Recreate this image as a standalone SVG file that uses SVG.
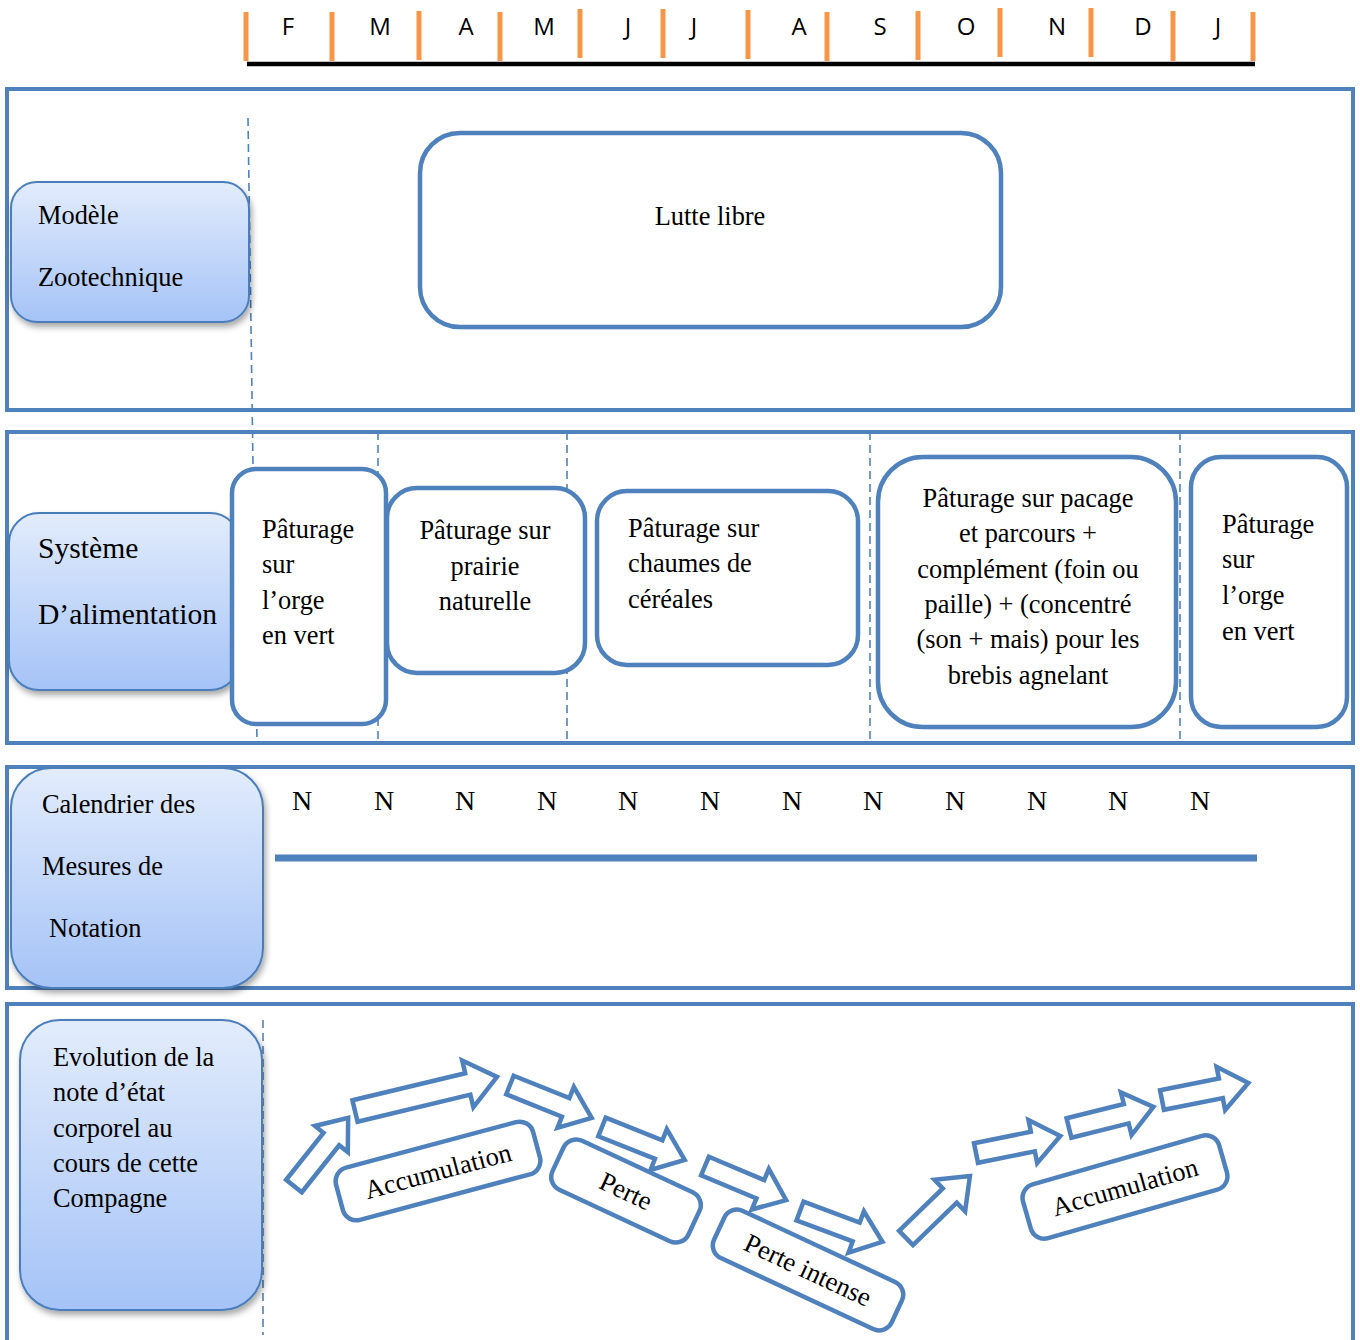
<svg xmlns="http://www.w3.org/2000/svg" width="1360" height="1340" viewBox="0 0 1360 1340">
<defs>
<linearGradient id="lg" x1="0" y1="0" x2="0" y2="1">
<stop offset="0" stop-color="#e2ecfc"/>
<stop offset="1" stop-color="#a5c3f7"/>
</linearGradient>
<filter id="sh" x="-10%" y="-10%" width="125%" height="130%">
<feDropShadow dx="2" dy="4" stdDeviation="3" flood-color="#000" flood-opacity="0.35"/>
</filter>
<style>
.sec{fill:none;stroke:#4f81bd;stroke-width:4}
.lab{fill:url(#lg);stroke:#4a7ebb;stroke-width:2;filter:url(#sh)}
.bx{fill:#fff;stroke:#4f81bd;stroke-width:4.5}
.dash{stroke:#4f81bd;stroke-width:1.6;stroke-dasharray:8 5;fill:none}
.tick{stroke:#f79646;stroke-width:5}
.arr{fill:#fff;stroke:#4f81bd;stroke-width:4.5;stroke-linejoin:miter}
.t{font-family:"Liberation Serif","Times New Roman",serif;font-size:26.4px;fill:#000}
.big{font-size:29.6px}
.lbl{font-size:26.6px}
.m{font-family:"Open Sans","Liberation Sans",sans-serif;font-size:24px;fill:#000;text-anchor:middle}
.n{font-family:"Liberation Serif",serif;font-size:28px;fill:#000;text-anchor:middle}
.c{text-anchor:middle}
</style>
</defs>
<rect width="1360" height="1340" fill="#fff"/>

<g id="timeline">
<line x1="247" y1="64" x2="1255" y2="64" stroke="#000" stroke-width="4.5"/>
<line class="tick" x1="246" y1="12" x2="246" y2="61"/>
<line class="tick" x1="332" y1="12" x2="332" y2="61"/>
<line class="tick" x1="419" y1="11" x2="419" y2="60"/>
<line class="tick" x1="500" y1="12" x2="500" y2="61"/>
<line class="tick" x1="580" y1="9" x2="580" y2="58"/>
<line class="tick" x1="663" y1="9" x2="663" y2="58"/>
<line class="tick" x1="748" y1="10" x2="748" y2="59"/>
<line class="tick" x1="827" y1="12" x2="827" y2="61"/>
<line class="tick" x1="918" y1="11" x2="918" y2="60"/>
<line class="tick" x1="1000" y1="8" x2="1000" y2="57"/>
<line class="tick" x1="1091" y1="8" x2="1091" y2="57"/>
<line class="tick" x1="1173" y1="11" x2="1173" y2="61"/>
<line class="tick" x1="1253" y1="12" x2="1253" y2="61"/>
<text class="m" x="288" y="35">F</text>
<text class="m" x="380" y="35">M</text>
<text class="m" x="466" y="35">A</text>
<text class="m" x="544" y="35">M</text>
<text class="m" x="628" y="35">J</text>
<text class="m" x="694" y="35">J</text>
<text class="m" x="799" y="35">A</text>
<text class="m" x="880" y="35">S</text>
<text class="m" x="966" y="35">O</text>
<text class="m" x="1057" y="35">N</text>
<text class="m" x="1143" y="35">D</text>
<text class="m" x="1218" y="35">J</text>
</g>

<g id="sections">
<rect class="sec" x="7" y="89" width="1346" height="321"/>
<rect class="sec" x="7" y="432" width="1346" height="311"/>
<rect class="sec" x="7" y="767" width="1346" height="221"/>
<rect class="sec" x="7" y="1004" width="1346" height="345"/>
<line class="dash" x1="248" y1="118" x2="257" y2="743"/>
<line class="dash" x1="378" y1="432" x2="378" y2="743"/>
<line class="dash" x1="567" y1="432" x2="567" y2="743"/>
<line class="dash" x1="870" y1="432" x2="870" y2="743"/>
<line class="dash" x1="1180" y1="432" x2="1180" y2="743"/>
<line class="dash" x1="263" y1="1020" x2="263" y2="1335"/>
</g>

<g id="modele">
<rect class="lab" x="11" y="182" width="238" height="140" rx="26"/>
<text class="t" x="38" y="224">Modèle</text>
<text class="t" x="38" y="286">Zootechnique</text>
</g>

<g id="lutte">
<rect class="bx" x="420" y="133" width="581" height="194" rx="40"/>
<text class="t c" x="710" y="225">Lutte libre</text>
</g>

<g id="systeme">
<rect class="lab" x="9" y="513" width="231" height="177" rx="30"/>
<text class="t big" x="38" y="558">Système</text>
<text class="t big" x="38" y="624">D’alimentation</text>
</g>

<g id="orge1">
<rect class="bx" x="232" y="469" width="154" height="255" rx="24"/>
<text class="t" x="262" y="538">Pâturage</text>
<text class="t" x="262" y="573">sur</text>
<text class="t" x="262" y="609">l’orge</text>
<text class="t" x="262" y="644">en vert</text>
</g>

<g id="prairie">
<rect class="bx" x="387" y="488" width="198" height="185" rx="30"/>
<text class="t c" x="485" y="539">Pâturage sur</text>
<text class="t c" x="485" y="575">prairie</text>
<text class="t c" x="485" y="610">naturelle</text>
</g>

<g id="chaumes">
<rect class="bx" x="597" y="491" width="261" height="174" rx="30"/>
<text class="t" x="628" y="537">Pâturage sur</text>
<text class="t" x="628" y="572">chaumes de</text>
<text class="t" x="628" y="608">céréales</text>
</g>

<g id="pacage">
<rect class="bx" x="878" y="457" width="298" height="270" rx="45"/>
<text class="t c" x="1028" y="507">Pâturage sur pacage</text>
<text class="t c" x="1028" y="542">et parcours +</text>
<text class="t c" x="1028" y="578">complément (foin ou</text>
<text class="t c" x="1028" y="613">paille) + (concentré</text>
<text class="t c" x="1028" y="648">(son + mais) pour les</text>
<text class="t c" x="1028" y="684">brebis agnelant</text>
</g>

<g id="orge2">
<rect class="bx" x="1191" y="457" width="156" height="270" rx="30"/>
<text class="t" x="1222" y="533">Pâturage</text>
<text class="t" x="1222" y="568">sur</text>
<text class="t" x="1222" y="604">l’orge</text>
<text class="t" x="1222" y="640">en vert</text>
</g>

<g id="calendrier">
<rect class="lab" x="11" y="768" width="252" height="220" rx="40"/>
<text class="t" x="42" y="813">Calendrier des</text>
<text class="t" x="42" y="875">Mesures de</text>
<text class="t" x="49" y="937">Notation</text>
</g>

<g id="notations">
<text class="n" x="302" y="810">N</text>
<text class="n" x="384" y="810">N</text>
<text class="n" x="465" y="810">N</text>
<text class="n" x="547" y="810">N</text>
<text class="n" x="628" y="810">N</text>
<text class="n" x="710" y="810">N</text>
<text class="n" x="792" y="810">N</text>
<text class="n" x="873" y="810">N</text>
<text class="n" x="955" y="810">N</text>
<text class="n" x="1037" y="810">N</text>
<text class="n" x="1118" y="810">N</text>
<text class="n" x="1200" y="810">N</text>
<line x1="275" y1="858" x2="1257" y2="858" stroke="#4f81bd" stroke-width="7"/>
</g>

<g id="evolution">
<rect class="lab" x="20" y="1020" width="242" height="290" rx="40"/>
<text class="t" x="53" y="1066">Evolution de la</text>
<text class="t" x="53" y="1101">note d’état</text>
<text class="t" x="53" y="1137">corporel au</text>
<text class="t" x="53" y="1172">cours de cette</text>
<text class="t" x="53" y="1207">Compagne</text>
</g>

<g id="connectors">
<polygon class="arr" transform="translate(294,1186) rotate(-51.5)" points="0,-10 60,-10 60,-21 87,0 60,21 60,10 0,10"/>
<polygon class="arr" transform="translate(355,1111) rotate(-13.5)" points="0,-11 116,-11 116,-24 146,0 116,24 116,11 0,11"/>
<polygon class="arr" transform="translate(510,1085) rotate(21.9)" points="0,-10 60,-10 60,-22 88,0 60,22 60,10 0,10"/>
<polygon class="arr" transform="translate(602,1127) rotate(21.7)" points="0,-10 61,-10 61,-22 89,0 61,22 61,10 0,10"/>
<polygon class="arr" transform="translate(705,1166) rotate(22.8)" points="0,-10 60,-10 60,-22 88,0 60,22 60,10 0,10"/>
<polygon class="arr" transform="translate(800,1211) rotate(20.5)" points="0,-10 60,-10 60,-22 88,0 60,22 60,10 0,10"/>
<polygon class="arr" transform="translate(906,1238) rotate(-44.1)" points="0,-10 61,-10 61,-22 89,0 61,22 61,10 0,10"/>
<polygon class="arr" transform="translate(976,1153) rotate(-11.4)" points="0,-10 58,-10 58,-22 86,0 58,22 58,10 0,10"/>
<polygon class="arr" transform="translate(1069,1128) rotate(-14)" points="0,-10 59,-10 59,-22 87,0 59,22 59,10 0,10"/>
<polygon class="arr" transform="translate(1162,1100) rotate(-11.2)" points="0,-10 60,-10 60,-22 88,0 60,22 60,10 0,10"/>
</g>

<g id="accumulation1" transform="translate(438,1171) rotate(-15)">
<rect class="bx" x="-102" y="-27" width="204" height="54" rx="14"/>
<text class="t c lbl" x="0" y="9">Accumulation</text>
</g>

<g id="perte" transform="translate(626,1191) rotate(25)">
<rect class="bx" x="-75" y="-27" width="150" height="54" rx="14"/>
<text class="t c lbl" x="0" y="9">Perte</text>
</g>

<g id="perte-intense" transform="translate(808,1270) rotate(25)">
<rect class="bx" x="-98" y="-26" width="196" height="52" rx="14"/>
<text class="t c lbl" x="0" y="9">Perte intense</text>
</g>

<g id="accumulation2" transform="translate(1125,1187) rotate(-16)">
<rect class="bx" x="-102" y="-28" width="204" height="56" rx="14"/>
<text class="t c lbl" x="0" y="9">Accumulation</text>
</g>
</svg>
